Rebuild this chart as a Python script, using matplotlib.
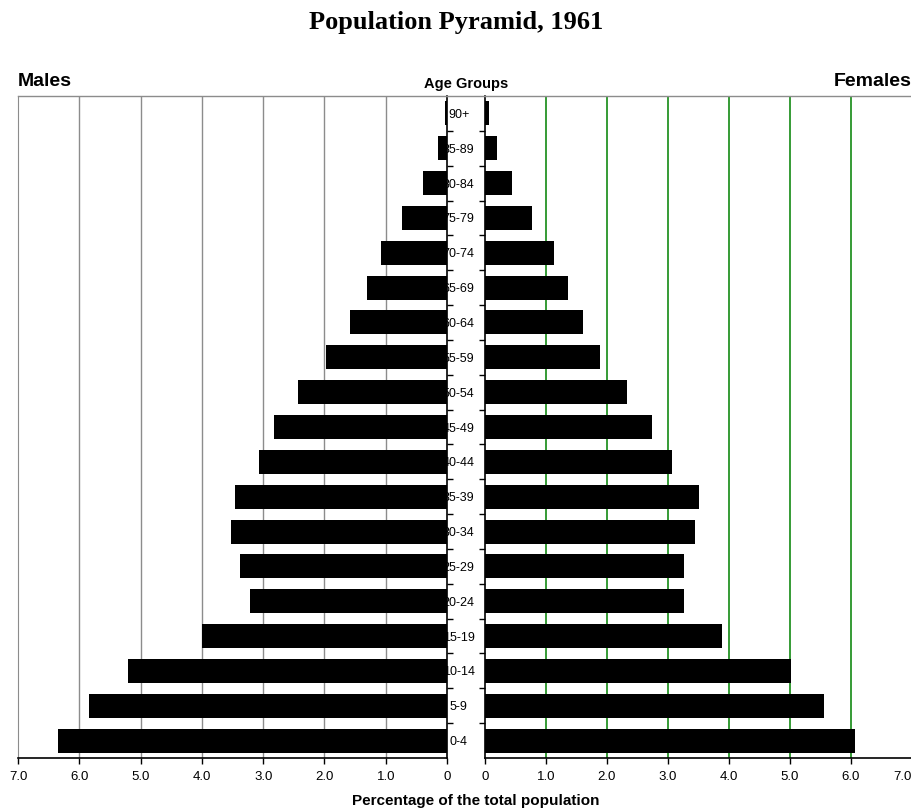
import matplotlib
matplotlib.use("Agg")
import matplotlib.pyplot as plt
from matplotlib.lines import Line2D

# Age groups, bottom to top
age_groups = ["0-4", "5-9", "10-14", "15-19", "20-24", "25-29", "30-34",
              "35-39", "40-44", "45-49", "50-54", "55-59", "60-64",
              "65-69", "70-74", "75-79", "80-84", "85-89", "90+"]

# Percent of total population
males = [6.35, 5.84, 5.21, 4.00, 3.21, 3.37, 3.53, 3.46, 3.07, 2.82,
         2.43, 1.98, 1.59, 1.30, 1.07, 0.73, 0.39, 0.14, 0.03]
females = [6.07, 5.56, 5.01, 3.88, 3.26, 3.26, 3.45, 3.51, 3.06, 2.74,
           2.33, 1.89, 1.61, 1.36, 1.13, 0.77, 0.44, 0.19, 0.07]

x_ticks = [0, 1, 2, 3, 4, 5, 6, 7]
x_labels = ["0", "1.0", "2.0", "3.0", "4.0", "5.0", "6.0", "7.0"]

SANS = "Liberation Sans"
GRAY = "#8c8c8c"
GREEN = "#138a13"

W, H = 912, 809
fig = plt.figure(figsize=(W / 100, H / 100), dpi=100, facecolor="white")

top = 96
bottom = 758
ax_l = fig.add_axes([18 / W, 1 - bottom / H, (447 - 18) / W, (bottom - top) / H])
ax_r = fig.add_axes([485 / W, 1 - bottom / H, (912 - 485) / W, (bottom - top) / H])

y = list(range(len(age_groups)))
bar_h = 0.69

ax_l.barh(y, males, height=bar_h, color="black", zorder=3)
ax_r.barh(y, females, height=bar_h, color="black", zorder=3)

ax_l.set_xlim(7, 0)
ax_r.set_xlim(0, 7)
for ax in (ax_l, ax_r):
    ax.set_ylim(-0.5, len(age_groups) - 0.5)
    ax.set_xticks(x_ticks)
    ax.set_xticklabels(x_labels, fontsize=9.5, family=SANS)
    ax.tick_params(axis="x", direction="out", length=4, width=1, color="black", pad=5)
    ax.spines["bottom"].set_color("black")
    ax.spines["bottom"].set_linewidth(1.2)
    ax.spines["top"].set_color(GRAY)
    ax.spines["top"].set_linewidth(1.0)

# the last label on the right would fall off the figure edge
ax_r.get_xticklabels()[-1].set_horizontalalignment("right")

# gridlines
for v in range(1, 7):
    ax_l.axvline(v, color=GRAY, lw=1.0, zorder=1)
    ax_r.axvline(v, color=GREEN, lw=1.2, zorder=1)

# left panel spines
ax_l.spines["left"].set_color(GRAY)
ax_l.spines["right"].set_color("black")
ax_l.spines["right"].set_linewidth(1.2)
ax_l.yaxis.tick_right()
ax_l.set_yticks([i + 0.5 for i in y[:-1]])
ax_l.set_yticklabels([])
ax_l.tick_params(axis="y", direction="out", length=4, width=1, color="black")

# right panel spines
ax_r.spines["right"].set_visible(False)
ax_r.spines["left"].set_color("black")
ax_r.spines["left"].set_linewidth(1.2)
ax_r.set_yticks([i + 0.5 for i in y[:-1]])
ax_r.set_yticklabels([])
ax_r.tick_params(axis="y", which="major", direction="out", length=4, width=1, color="black")
# age labels in the centre strip
ax_r.set_yticks(y, minor=True)
ax_r.set_yticklabels(age_groups, minor=True, fontsize=9, family=SANS, ha="center")
ax_r.tick_params(axis="y", which="minor", length=0, pad=19)

# top line across centre gap
fig.add_artist(Line2D([447 / W, 485 / W], [1 - top / H, 1 - top / H], color=GRAY, lw=1.0))

fig.text(0.5, 1 - 22 / H, "Population Pyramid, 1961", ha="center", va="center",
         fontsize=19, fontweight="bold", family="Liberation Serif")
fig.text(18 / W, 1 - 82 / H, "Males", ha="left", va="center",
         fontsize=14, fontweight="bold", family=SANS)
fig.text(1.0, 1 - 82 / H, "Females", ha="right", va="center",
         fontsize=14, fontweight="bold", family=SANS)
fig.text(466 / W, 1 - 84 / H, "Age Groups", ha="center", va="center",
         fontsize=10.5, fontweight="bold", family=SANS)
fig.text(476 / W, 1 - 801 / H, "Percentage of the total population", ha="center",
         va="center", fontsize=11, fontweight="bold", family=SANS)

fig.savefig("out.png", dpi=100, facecolor="white")
